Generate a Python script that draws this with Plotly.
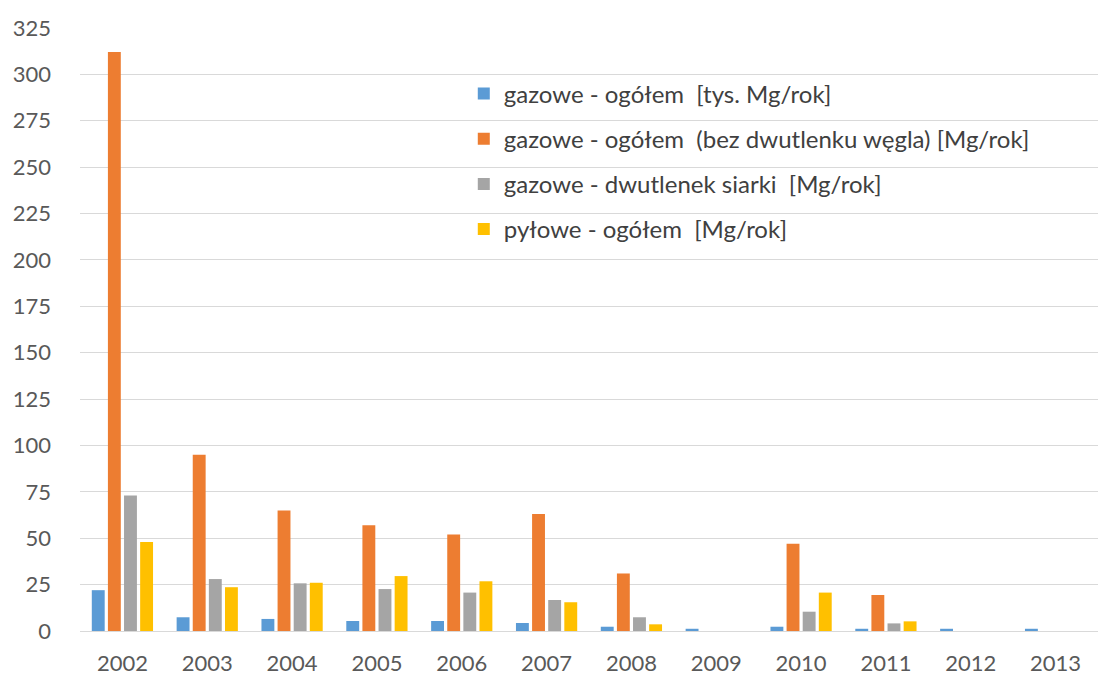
import plotly.graph_objects as go

years = ["2002", "2003", "2004", "2005", "2006", "2007", "2008", "2009", "2010", "2011", "2012", "2013"]

gazowe_ogolem = [22, 7.4, 6.5, 5.4, 5.4, 4.3, 2.3, 1.2, 2.3, 1.2, 1.2, 1.2]
gazowe_bez_co2 = [312, 95, 65, 57, 52, 63, 31, 0, 47, 19.4, 0, 0]
dwutlenek_siarki = [73, 28, 25.7, 22.6, 20.7, 16.7, 7.4, 0, 10.4, 4.1, 0, 0]
pylowe_ogolem = [48, 23.6, 26, 29.6, 26.8, 15.5, 3.6, 0, 20.7, 5.2, 0, 0]

series = [
    ("gazowe - ogółem  [tys. Mg/rok]", gazowe_ogolem, "#5B9BD5"),
    ("gazowe - ogółem  (bez dwutlenku węgla) [Mg/rok]", gazowe_bez_co2, "#ED7D31"),
    ("gazowe - dwutlenek siarki  [Mg/rok]", dwutlenek_siarki, "#A5A5A5"),
    ("pyłowe - ogółem  [Mg/rok]", pylowe_ogolem, "#FFC000"),
]

y_ticks = list(range(0, 326, 25))

fig = go.Figure()
for i, (name, vals, color) in enumerate(series):
    fig.add_trace(go.Bar(
        x=years, y=vals, name=name,
        marker=dict(color=color, line=dict(width=0)),
        legendgroup=f"g{i}",
    ))

font_family = "Lato, Open Sans, sans-serif"

fig.update_layout(
    width=1099, height=676,
    margin=dict(l=80, r=1, t=28, b=45, autoexpand=False),
    paper_bgcolor="white", plot_bgcolor="white",
    barmode="group", bargap=0.24, bargroupgap=0.2,
    font=dict(family=font_family, size=22, color="#595959"),
    showlegend=True,
    legend=dict(
        x=0.377, y=0.928, xanchor="left", yanchor="top",
        bgcolor="rgba(0,0,0,0)",
        font=dict(size=24, color="#404040"),
        traceorder="grouped", tracegroupgap=11,
        itemwidth=30,
    ),
    xaxis=dict(
        automargin=False,
        showgrid=False, showline=False, zeroline=False,
        ticks="", ticklabelstandoff=17,
        tickfont=dict(size=22, color="#595959"),
    ),
    yaxis=dict(
        automargin=False,
        range=[0, 325], tickvals=y_ticks,
        showgrid=True, gridcolor="#D9D9D9", gridwidth=1,
        zeroline=True, zerolinecolor="#D9D9D9", zerolinewidth=1,
        showline=False, ticks="", ticklabelstandoff=28,
        tickfont=dict(size=22, color="#595959"),
    ),
)

fig.write_html("out.html")
